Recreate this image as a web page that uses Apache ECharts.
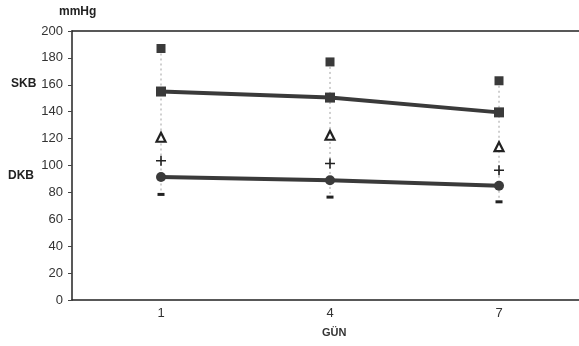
<!DOCTYPE html>
<html><head><meta charset="utf-8">
<script src="https://cdn.jsdelivr.net/npm/echarts@6/dist/echarts.min.js"></script>
<style>html,body{margin:0;padding:0;background:#fff;overflow:hidden}#c{width:579px;height:346px}</style>
</head><body><div id="c"></div>
<script>
const days = [1, 4, 7];
const xTickLabels = [1, 4, 7];
const yTickLabels = [0, 20, 40, 60, 80, 100, 120, 140, 160, 180, 200];
const squareVals = [187, 177, 163];
const skbVals = [155, 150.5, 139.5];
const triangleVals = [121, 122.5, 114];
const plusVals = [103.5, 101.5, 96.5];
const dkbVals = [91.5, 89, 85];
const minusVals = [78.5, 76.5, 73];

const pair = (a) => days.map((d, i) => [d, a[i]]);
const ink = '#3a3a3a';
const plusPath = 'path://M4.2,0H5.8V4.2H10V5.8H5.8V10H4.2V5.8H0V4.2H4.2Z';

const dotted = days.map((d, i) => ({
  type: 'line', silent: true, symbol: 'none', z: 1,
  data: [[d, squareVals[i]], [d, minusVals[i]]],
  lineStyle: { color: '#a0a0a0', width: 1, type: [2, 3] }
}));

const chart = echarts.init(document.getElementById('c'));
chart.setOption({
  animation: false,
  backgroundColor: '#fff',
  grid: { left: 72, right: 0, top: 31, bottom: 46, show: false },
  xAxis: [{
    type: 'value', min: -0.58, max: 8.42, splitLine: { show: false },
    axisLine: { show: true, onZero: false, lineStyle: { color: '#222', width: 1.5 } },
    axisTick: { show: false },
    axisLabel: { customValues: xTickLabels, color: '#333', fontSize: 13, fontFamily: 'Liberation Sans', margin: 7 }
  }, {
    type: 'value', position: 'top', min: -0.58, max: 8.42, splitLine: { show: false },
    axisLine: { show: true, onZero: false, lineStyle: { color: '#222', width: 1.5 } },
    axisTick: { show: false }, axisLabel: { show: false }
  }],
  yAxis: {
    type: 'value', min: 0, max: 200, interval: 20, splitLine: { show: false },
    axisLine: { show: true, onZero: false, lineStyle: { color: '#222', width: 1.5 } },
    axisTick: { show: true, inside: false, length: 4, lineStyle: { color: '#444' } },
    axisLabel: { color: '#333', fontSize: 13, fontFamily: 'Liberation Sans', margin: 9,
      formatter: v => yTickLabels.includes(v) ? String(v) : '' }
  },
  graphic: [
    { type: 'text', left: 11, top: 78, style: { text: 'SKB', font: 'bold 12px "Liberation Sans"', fill: '#222' } },
    { type: 'text', left: 8, top: 170, style: { text: 'DKB', font: 'bold 12px "Liberation Sans"', fill: '#222' } },
    { type: 'text', left: 59, top: 6, style: { text: 'mmHg', font: 'bold 12px "Liberation Sans"', fill: '#222' } },
    { type: 'text', left: 322, top: 327, style: { text: 'GÜN', font: 'bold 11px "Liberation Sans"', fill: '#333' } }
  ],
  series: [
    ...dotted,
    { type: 'line', data: pair(skbVals), symbol: 'rect', symbolSize: 10, z: 3,
      lineStyle: { color: ink, width: 4 }, itemStyle: { color: ink } },
    { type: 'line', data: pair(dkbVals), symbol: 'circle', symbolSize: 10, z: 3,
      lineStyle: { color: ink, width: 4 }, itemStyle: { color: ink } },
    { type: 'scatter', data: pair(squareVals), symbol: 'rect', symbolSize: 9, z: 4,
      itemStyle: { color: '#3a3a3a', opacity: 1 } },
    { type: 'scatter', data: pair(triangleVals), symbol: 'triangle', symbolSize: 9, z: 4,
      itemStyle: { color: '#fff', borderColor: '#222', borderWidth: 2.2, opacity: 1 } },
    { type: 'scatter', data: pair(plusVals), symbol: plusPath, symbolSize: 10, z: 4,
      itemStyle: { color: '#222', opacity: 1 } },
    { type: 'scatter', data: pair(minusVals), symbol: 'rect', symbolSize: [7, 3], z: 4,
      itemStyle: { color: '#222', opacity: 1 } }
  ]
});
</script></body></html>
